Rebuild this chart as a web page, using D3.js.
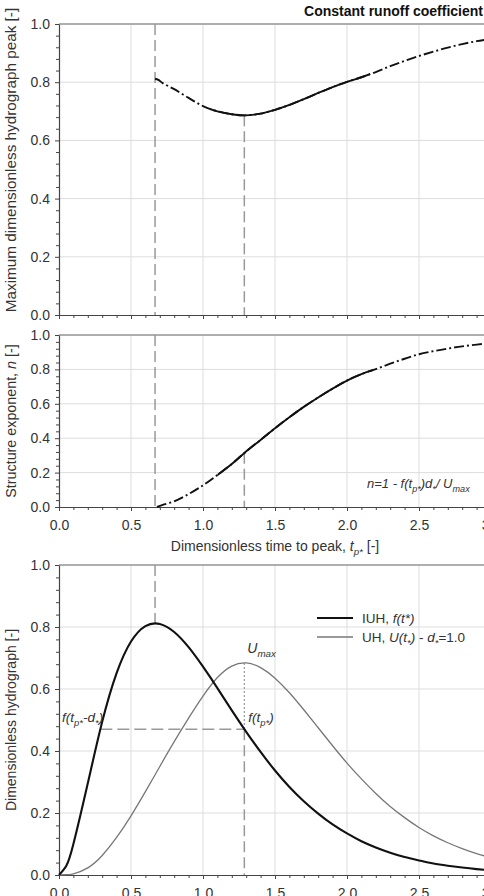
<!DOCTYPE html>
<html lang="en">
<head>
<meta charset="UTF-8" />
<title>Constant runoff coefficient</title>
<script src="https://cdn.jsdelivr.net/npm/d3@7"></script>
<style>
  body { margin: 0; background: #fff; }
  svg { font-family: "Liberation Sans", Arial, sans-serif; }
  .tick text { fill: #333; font-size: 14px; }
  .domain, .tick line { stroke: #444; }
  .lbl { fill: #333; }
</style>
</head>
<body>
<script>
// ---- data ----
const tGrid = [0, 0.05, 0.1, 0.2, 0.3, 0.4, 0.5, 0.6, 0.7, 0.8, 0.9, 1.0, 1.1, 1.2, 1.3, 1.4, 1.5,
               1.6, 1.7, 1.8, 1.9, 2.0, 2.1, 2.2, 2.3, 2.4, 2.5, 2.6, 2.7, 2.8, 2.9, 3.0];
const iuh = [0, 0.029, 0.100, 0.296, 0.494, 0.651, 0.753, 0.803, 0.810, 0.784, 0.735, 0.672, 0.603,
             0.531, 0.462, 0.397, 0.337, 0.284, 0.238, 0.198, 0.163, 0.134, 0.109, 0.089,
             0.072, 0.058, 0.047, 0.037, 0.030, 0.024, 0.019, 0.015];
const uh = [0, 0.001, 0.004, 0.023, 0.063, 0.121, 0.191, 0.269, 0.350, 0.430, 0.506, 0.577, 0.637,
            0.674, 0.684, 0.669, 0.635, 0.588, 0.533, 0.475, 0.417, 0.361, 0.310, 0.263,
            0.221, 0.185, 0.153, 0.126, 0.104, 0.085, 0.069, 0.056];

const tPeak = [0.667, 0.69, 0.72, 0.8, 0.9, 1.0, 1.1, 1.2, 1.29, 1.4, 1.5, 1.6, 1.7, 1.8, 1.9,
               2.0, 2.1, 2.2, 2.3, 2.4, 2.5, 2.6, 2.7, 2.8, 2.9, 3.0];
const peakVal = [0.812, 0.808, 0.797, 0.776, 0.746, 0.718, 0.700, 0.690, 0.686, 0.692, 0.705,
                 0.722, 0.742, 0.763, 0.783, 0.801, 0.817, 0.835, 0.855, 0.873, 0.890, 0.905,
                 0.919, 0.931, 0.941, 0.949];

const tExp = [0.68, 0.72, 0.8, 0.9, 1.0, 1.1, 1.2, 1.29, 1.4, 1.5, 1.6, 1.7, 1.8, 1.9, 2.0,
              2.1, 2.2, 2.3, 2.4, 2.5, 2.6, 2.7, 2.8, 2.9, 3.0];
const expVal = [0.0, 0.012, 0.033, 0.075, 0.126, 0.186, 0.250, 0.316, 0.390, 0.458, 0.522,
                0.582, 0.637, 0.688, 0.735, 0.772, 0.802, 0.833, 0.862, 0.888, 0.906, 0.921,
                0.934, 0.944, 0.953];

// solid part of the dash-dot curves
const solidPeak = [1.05, 2.16];
const solidExp = [1.10, 2.18];

// reference points
const tpIUH = 0.667, fPeak = 0.812;   // IUH peak
const tpUH = 1.287, uMax = 0.684;     // UH peak (d* = 1.0)
const fTp = 0.470, nTp = 0.316, peakTp = 0.686;
const dStar = 1.0;

const xTicks = [0, 0.5, 1.0, 1.5, 2.0, 2.5, 3.0];
const yTicks = [0, 0.2, 0.4, 0.6, 0.8, 1.0];

// ---- layout ----
const W = 484, H = 896;
const svg = d3.select("body").append("svg").attr("width", W).attr("height", H);

const x = d3.scaleLinear().domain([0, 3]).range([59, 491]);
const yTop = d3.scaleLinear().domain([0, 1]).range([315, 24]);
const yMid = d3.scaleLinear().domain([0, 1]).range([507, 335]);
const yBot = d3.scaleLinear().domain([0, 1]).range([875, 565]);

const xMinor = d3.range(0, 3.001, 0.1).filter(v => Math.abs(v * 2 - Math.round(v * 2)) > 1e-6);
const yMinor = d3.range(0, 1.001, 0.04).filter(v => Math.abs(v * 5 - Math.round(v * 5)) > 1e-6);

function frame(y, labels) {
  const g = svg.append("g");
  // grid
  g.selectAll(".gx").data(xTicks.slice(1)).join("line")
    .attr("x1", d => x(d)).attr("x2", d => x(d))
    .attr("y1", y(0)).attr("y2", y(1))
    .attr("stroke", "#ddd").attr("stroke-width", 1);
  g.selectAll(".gy").data(yTicks.slice(1)).join("line")
    .attr("x1", x(0)).attr("x2", x(3))
    .attr("y1", d => y(d)).attr("y2", d => y(d))
    .attr("stroke", "#ddd").attr("stroke-width", 1);
  // top border
  g.append("line").attr("x1", x(0)).attr("x2", x(3))
    .attr("y1", y(1)).attr("y2", y(1))
    .attr("stroke", "#999").attr("stroke-width", 1.6);

  // y axis
  g.append("g").attr("transform", `translate(${x(0)},0)`)
    .call(d3.axisLeft(y).tickValues(yMinor).tickSize(3).tickFormat(""))
    .call(s => s.select(".domain").remove());
  g.append("g").attr("transform", `translate(${x(0)},0)`)
    .call(d3.axisLeft(y).tickValues(yTicks).tickSize(4).tickSizeOuter(0)
      .tickPadding(5).tickFormat(d3.format(".1f")))
    .call(s => s.select(".domain").attr("stroke-width", 1.2));

  // x axis
  g.append("g").attr("transform", `translate(0,${y(0)})`)
    .call(d3.axisBottom(x).tickValues(xMinor).tickSize(3).tickFormat(""))
    .call(s => s.select(".domain").remove());
  g.append("g").attr("transform", `translate(0,${y(0)})`)
    .call(d3.axisBottom(x).tickValues(xTicks).tickSize(4).tickSizeOuter(0)
      .tickPadding(9).tickFormat(labels ? d3.format(".1f") : ""))
    .call(s => s.select(".domain").attr("stroke-width", 1.2));
  return g;
}

// rich text: parts = [text, flags] with flags "i" italic, "s" subscript
function rich(sel, parts, size) {
  let shift = 0;
  parts.forEach(([txt, fl = ""]) => {
    const sub = fl.includes("s");
    const want = sub ? size * 0.3 : 0;
    const ts = sel.append("tspan").text(txt)
      .attr("dy", want - shift)
      .style("font-size", (sub ? size * 0.7 : size) + "px");
    if (fl.includes("i")) ts.style("font-style", "italic");
    shift = want;
  });
  return sel;
}

function guide(x1, y1, x2, y2, dash, w) {
  svg.append("line").attr("x1", x1).attr("y1", y1).attr("x2", x2).attr("y2", y2)
    .attr("stroke", "#999").attr("stroke-width", w || 1.5)
    .attr("stroke-dasharray", dash);
}

const defs = svg.append("defs");
function mixedCurve(ts, vs, y, solid, id) {
  const pts = ts.map((t, i) => [t, vs[i]]);
  const line = d3.line().x(d => x(d[0])).y(d => y(d[1])).curve(d3.curveCatmullRom);
  svg.append("path").attr("d", line(pts)).attr("fill", "none")
    .attr("stroke", "#111").attr("stroke-width", 1.9)
    .attr("stroke-dasharray", "10,3,2,3");
  defs.append("clipPath").attr("id", id).append("rect")
    .attr("x", x(solid[0])).attr("width", x(solid[1]) - x(solid[0]))
    .attr("y", 0).attr("height", H);
  svg.append("path").attr("d", line(pts)).attr("fill", "none")
    .attr("stroke", "#111").attr("stroke-width", 1.9)
    .attr("clip-path", `url(#${id})`);
}

// ---- panel 1 ----
frame(yTop, false);
guide(x(tpIUH), yTop(1), x(tpIUH), yTop(0), "11,5");
guide(x(tpUH), yTop(peakTp), x(tpUH), yTop(0), "11,5");
mixedCurve(tPeak, peakVal, yTop, solidPeak, "c1");

svg.append("text").attr("x", 483).attr("y", 16).attr("text-anchor", "end")
  .style("font-size", "14px").style("font-weight", "bold").attr("fill", "#111")
  .text("Constant runoff coefficient");

svg.append("text").attr("class", "lbl")
  .attr("transform", `translate(16,160) rotate(-90)`)
  .attr("text-anchor", "middle").style("font-size", "15.3px")
  .text("Maximum dimensionless hydrograph peak [-]");

// ---- panel 2 ----
frame(yMid, true);
guide(x(tpIUH), yMid(1), x(tpIUH), yMid(0), "11,5");
guide(x(tpUH), yMid(nTp), x(tpUH), yMid(0), "11,5");
mixedCurve(tExp, expVal, yMid, solidExp, "c2");

rich(svg.append("text").attr("class", "lbl")
  .attr("transform", `translate(16,${(yMid(0) + yMid(1)) / 2}) rotate(-90)`)
  .attr("text-anchor", "middle"),
  [["Structure exponent, "], ["n", "i"], [" [-]"]], 14.3);

rich(svg.append("text").attr("class", "lbl").attr("x", 367).attr("y", 488),
  [["n=1 - f(t", "i"], ["p*", "is"], [")d", "i"], ["*", "is"], ["/ U", "i"], ["max", "is"]], 13);

rich(svg.append("text").attr("class", "lbl").attr("x", (x(0) + x(3)) / 2 - 0).attr("y", 551)
  .attr("text-anchor", "middle"),
  [["Dimensionless time to peak, "], ["t", "i"], ["p*", "is"], [" [-]"]], 14);

// ---- panel 3 ----
frame(yBot, true);
guide(x(tpIUH), yBot(1), x(tpIUH), yBot(fPeak), "11,5");
guide(x(tpUH - dStar), yBot(fTp), x(tpUH), yBot(fTp), "12,5");
guide(x(tpUH), yBot(fTp), x(tpUH), yBot(0), "11,5");
guide(x(tpUH), yBot(uMax), x(tpUH), yBot(fTp), "2,2", 1.2);

const lineB = d3.line().x((d, i) => x(tGrid[i])).curve(d3.curveNatural);
svg.append("path").attr("d", lineB.y(d => yBot(d))(uh)).attr("fill", "none")
  .attr("stroke", "#777").attr("stroke-width", 1.3);
svg.append("path").attr("d", lineB.y(d => yBot(d))(iuh)).attr("fill", "none")
  .attr("stroke", "#111").attr("stroke-width", 2.1);

rich(svg.append("text").attr("class", "lbl")
  .attr("transform", `translate(16,${(yBot(0) + yBot(1)) / 2}) rotate(-90)`)
  .attr("text-anchor", "middle"),
  [["Dimensionless  hydrograph [-]"]], 14);

// legend
const leg = [
  { y: 618, stroke: "#111", w: 2.1, parts: [["IUH, "], ["f(t*)", "i"]] },
  { y: 637, stroke: "#777", w: 1.3, parts: [["UH, "], ["U(t", "i"], ["*", "is"], [")", "i"], [" - "], ["d", "i"], ["*", "is"], ["=1.0"]] }
];
leg.forEach(l => {
  svg.append("line").attr("x1", 317).attr("x2", 353).attr("y1", l.y).attr("y2", l.y)
    .attr("stroke", l.stroke).attr("stroke-width", l.w);
  rich(svg.append("text").attr("class", "lbl").attr("x", 362).attr("y", l.y + 5), l.parts, 13.5);
});

rich(svg.append("text").attr("class", "lbl").attr("x", x(tpUH) + 3).attr("y", yBot(uMax) - 10),
  [["U", "i"], ["max", "is"]], 14);
rich(svg.append("text").attr("class", "lbl").attr("x", x(tpUH) + 4).attr("y", yBot(fTp) - 7),
  [["f(t", "i"], ["p*", "is"], [")", "i"]], 13.5);
rich(svg.append("text").attr("class", "lbl").attr("x", 62).attr("y", yBot(fTp) - 7),
  [["f(t", "i"], ["p*", "is"], ["-d", "i"], ["*", "is"], [")", "i"]], 13.5);
</script>
</body>
</html>
